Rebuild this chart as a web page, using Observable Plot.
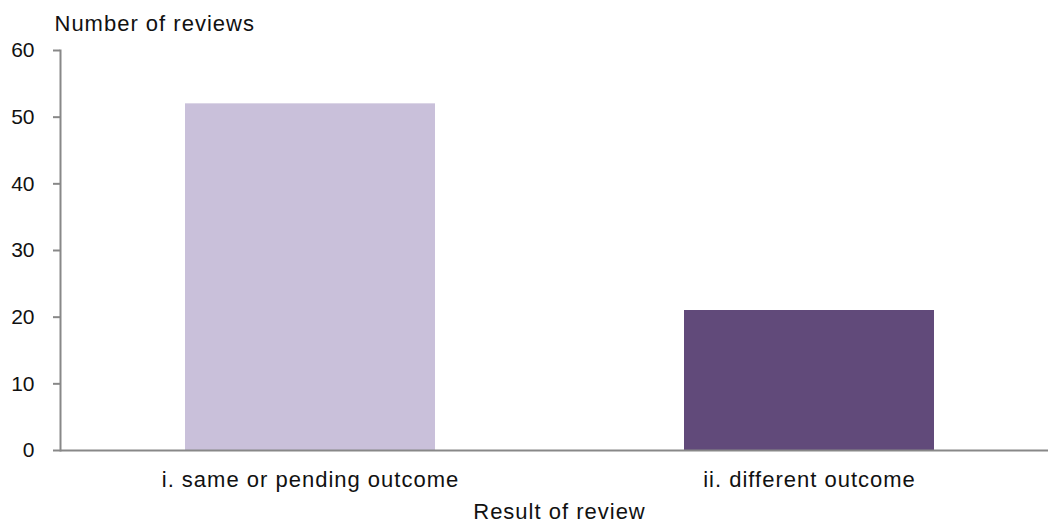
<!DOCTYPE html>
<html>
<head>
<meta charset="utf-8">
<script src="https://cdn.jsdelivr.net/npm/d3@7"></script>
<script src="https://cdn.jsdelivr.net/npm/@observablehq/plot@0.6"></script>
<style>
  html, body { margin: 0; padding: 0; background: #fff; overflow: hidden; }
  #chart svg { font-family: "Liberation Sans", Arial, sans-serif; }
  #chart text { letter-spacing: 1px; }
  #chart g[aria-label="y-axis tick label"] text { letter-spacing: 0; }
</style>
</head>
<body>
<div id="chart"></div>
<script>
const categories = ["i. same or pending outcome", "ii. different outcome"];
const values = [52, 21];
const colors = ["#C9C0DA", "#614A7A"];
const yTicks = [0, 10, 20, 30, 40, 50, 60];
const yTitle = "Number of reviews";
const xTitle = "Result of review";

const data = categories.map((c, i) => ({category: c, value: values[i]}));

const chart = Plot.plot({
  width: 1048,
  height: 523,
  marginTop: 50,
  marginBottom: 73,
  marginLeft: 60,
  marginRight: -10,
  style: {fontSize: "22px", fontFamily: "Liberation Sans, Arial, sans-serif", color: "#111", background: "#fff"},
  x: {domain: categories, paddingInner: 0.5, paddingOuter: 0.25},
  y: {domain: [0, 60]},
  color: {domain: categories, range: colors},
  marks: [
    Plot.barY(data, {x: "category", y: "value", fill: "category"}),
    Plot.frame({anchor: "left", stroke: "#888", strokeWidth: 2}),
    Plot.ruleY([0], {stroke: "#888", strokeWidth: 2}),
    Plot.axisY({ticks: yTicks, tickSize: 7, tickPadding: 19, stroke: "#888", strokeWidth: 2, strokeOpacity: 1, label: null, fill: "#111", fontSize: 21}),
    Plot.axisX({tickSize: 0, tickPadding: 21, label: xTitle, labelAnchor: "center", labelOffset: 68, labelArrow: false, fill: "#111", fontSize: 22}),
    Plot.text([yTitle], {frameAnchor: "top-left", dx: -6, dy: -20, textAnchor: "start", lineAnchor: "bottom", fill: "#111", fontSize: 22})
  ]
});
document.getElementById("chart").appendChild(chart);
</script>
</body>
</html>
